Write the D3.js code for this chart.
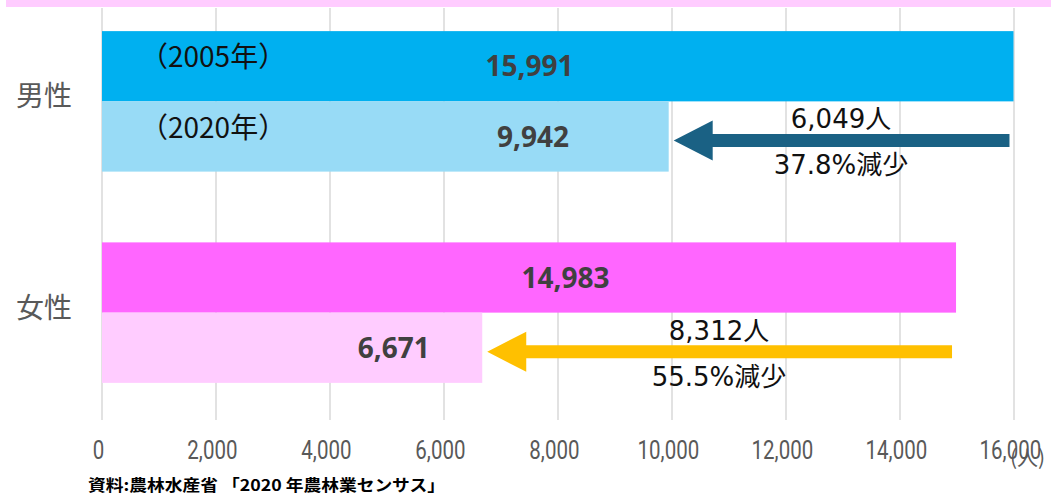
<!DOCTYPE html>
<html>
<head>
<meta charset="utf-8">
<script src="https://cdn.jsdelivr.net/npm/d3@7"></script>
<style>
  body { margin: 0; background: #fff; }
  svg { display: block; }
</style>
</head>
<body>
<div id="chart"></div>
<script>
// data
const groups = ["男性", "女性"];
const years = ["2005", "2020"];
const yearLabels = ["（2005年）", "（2020年）"];
const values2005 = [15991, 14983];
const values2020 = [9942, 6671];
const barColors = [["#00B0F0", "#98DBF6"], ["#FF66FF", "#FFCCFF"]];
const labelAt = [[7500, 7560], [8130, 5120]]; // where the value labels sit (in data units)
const diffText = ["6,049人", "8,312人"];
const pctText = ["37.8%減少", "55.5%減少"];
const arrowColors = ["#1A6184", "#FFC000"];
const ticks = [0, 2000, 4000, 6000, 8000, 10000, 12000, 14000, 16000];

const W = 1051, H = 493;

const svg = d3.select("#chart")
    .append("svg")
    .attr("width", W)
    .attr("height", H);

const x = d3.scaleLinear()
    .domain([0, 16000])
    .range([102, 1014]);

const y = d3.scaleBand()
    .domain(groups)
    .range([10, 404])
    .paddingInner(0.335)
    .paddingOuter(0.1);

const yInner = d3.scaleBand()
    .domain(years)
    .range([0, y.bandwidth()]);

// gridlines
svg.append("g")
    .selectAll("line")
    .data(ticks)
    .join("line")
    .attr("x1", d => x(d))
    .attr("x2", d => x(d))
    .attr("y1", 8)
    .attr("y2", 420)
    .attr("stroke", "#D9D9D9")
    .attr("stroke-width", 1.5);

// top pink strip (cut-off element above the plot)
svg.append("rect")
    .attr("x", 6)
    .attr("y", 0)
    .attr("width", W - 6)
    .attr("height", 7)
    .attr("fill", "#FFCCFF");

// bars
const rows = [];
groups.forEach((g, i) => {
    rows.push({ g, gi: i, yi: 0, year: years[0], v: values2005[i] });
    rows.push({ g, gi: i, yi: 1, year: years[1], v: values2020[i] });
});

svg.append("g")
    .selectAll("rect")
    .data(rows)
    .join("rect")
    .attr("x", x(0))
    .attr("y", d => y(d.g) + yInner(d.year))
    .attr("width", d => x(d.v) - x(0))
    .attr("height", yInner.bandwidth())
    .attr("fill", d => barColors[d.gi][d.yi]);

// value labels
svg.append("g")
    .selectAll("text")
    .data(rows)
    .join("text")
    .attr("x", d => x(labelAt[d.gi][d.yi]))
    .attr("y", d => y(d.g) + yInner(d.year) + yInner.bandwidth() / 2)
    .attr("dy", "0.36em")
    .attr("text-anchor", "middle")
    .style("font-family", "'Noto Sans', sans-serif")
    .style("font-weight", "bold")
    .style("font-size", "28px")
    .attr("fill", "#404040")
    .text(d => d3.format(",")(d.v));

// year labels (male group only)
svg.append("g")
    .selectAll("text")
    .data(years)
    .join("text")
    .attr("x", 140)
    .attr("y", (d, i) => y(groups[0]) + yInner(d) + yInner.bandwidth() / 2 + (i === 0 ? 1 : 2))
    .style("font-family", "'Noto Sans CJK JP', sans-serif")
    .style("font-size", "28px")
    .attr("fill", "#111")
    .text((d, i) => yearLabels[i]);

// category labels
svg.append("g")
    .selectAll("text")
    .data(groups)
    .join("text")
    .attr("x", 72)
    .attr("y", d => y(d) + y.bandwidth() / 2 - 5)
    .attr("dy", "0.36em")
    .attr("text-anchor", "end")
    .style("font-family", "'Noto Sans CJK JP', sans-serif")
    .style("font-size", "28px")
    .attr("fill", "#595959")
    .text(d => d);

// arrows from 2005 value to 2020 value
groups.forEach((g, i) => {
    const cy = y(g) + yInner(years[1]) + yInner.bandwidth() / 2 + 4;
    const x0 = x(values2005[i]) - 4;
    const tip = x(values2020[i]) + 5;
    const headLen = 39, headH = 20, shaft = 6.5;
    const pts = [
        [x0, cy - shaft], [tip + headLen, cy - shaft], [tip + headLen, cy - headH],
        [tip, cy], [tip + headLen, cy + headH], [tip + headLen, cy + shaft], [x0, cy + shaft]
    ];
    svg.append("path")
        .attr("d", d3.line()(pts) + "Z")
        .attr("fill", arrowColors[i]);

    const tx = i === 0 ? 841 : 719;
    svg.append("text")
        .attr("x", tx)
        .attr("y", cy - 12)
        .attr("text-anchor", "middle")
        .style("font-family", "'DejaVu Sans', 'Noto Sans CJK JP', sans-serif")
        .style("font-size", "26px")
        .attr("fill", "#111")
        .text(diffText[i]);
    svg.append("text")
        .attr("x", tx)
        .attr("y", cy + 34)
        .attr("text-anchor", "middle")
        .style("font-family", "'DejaVu Sans', 'Noto Sans CJK JP', sans-serif")
        .style("font-size", "26px")
        .attr("fill", "#111")
        .text(pctText[i]);
});

// x axis tick labels (narrow look, squeezed horizontally)
const axis = svg.append("g")
    .attr("transform", "translate(0,420)")
    .call(d3.axisBottom(x).tickValues(ticks).tickFormat(d3.format(",")).tickSize(0));
axis.select(".domain").remove();
axis.selectAll("text")
    .attr("x", -5)
    .attr("y", 39)
    .attr("dy", null)
    .attr("transform", "scale(0.82,1)")
    .style("font-family", "Roboto, sans-serif")
    .style("font-size", "25px")
    .attr("fill", "#595959");

svg.append("text")
    .attr("x", 1010)
    .attr("y", 465)
    .style("font-family", "'Noto Sans CJK JP', sans-serif")
    .style("font-size", "21px")
    .attr("fill", "#595959")
    .text("(人)");

// source note
svg.append("text")
    .attr("x", 88)
    .attr("y", 491)
    .attr("textLength", 357)
    .attr("lengthAdjust", "spacingAndGlyphs")
    .style("font-family", "'Noto Sans CJK JP', sans-serif")
    .style("font-weight", "bold")
    .style("font-size", "16px")
    .attr("fill", "#000")
    .text("資料:農林水産省 「2020 年農林業センサス」");
</script>
</body>
</html>
